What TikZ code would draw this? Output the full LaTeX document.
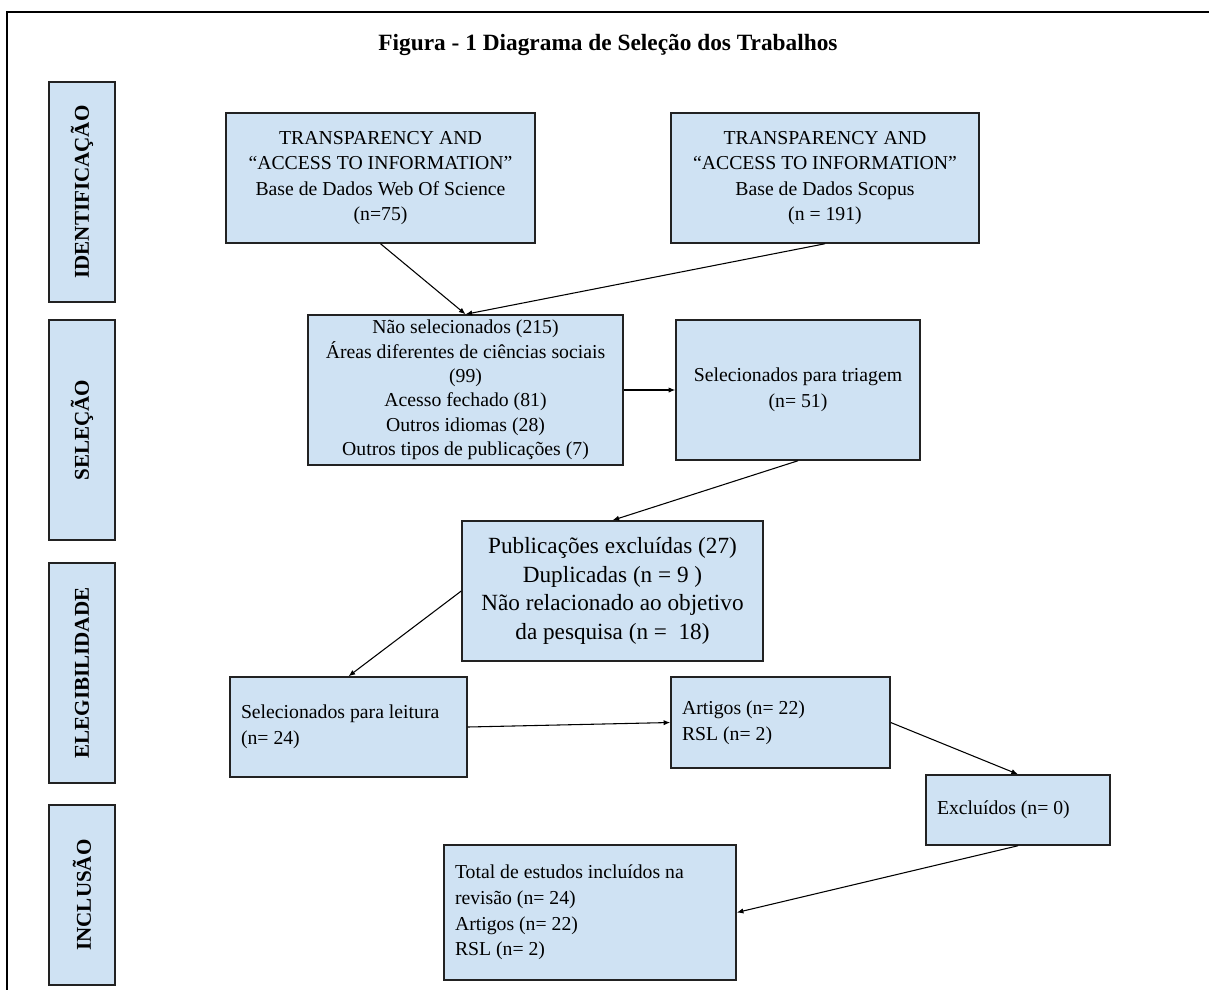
\documentclass[tikz,border=0pt]{standalone}
\usepackage{fontspec}
\setmainfont{Liberation Serif}
\usetikzlibrary{arrows.meta}

\definecolor{azulclaro}{HTML}{CFE2F3}
\definecolor{borda}{HTML}{222222}

\tikzset{
  caixa/.style={rectangle, draw=borda, fill=azulclaro, line width=1.1pt,
    inner sep=2pt, align=center, font=\fontsize{14.8}{19.2}\selectfont},
  tam/.style 2 args={minimum width=#1, minimum height=#2},
  fase/.style={caixa, rotate=90, font=\fontsize{15.8}{18}\selectfont\bfseries},
  esq/.style={align=flush left, inner xsep=8.25pt, text width=#1},
}

\begin{document}
\begin{tikzpicture}[x=0.75pt, y=-0.75pt]

        \useasboundingbox (0,0) rectangle (1209,990);
        \draw[line width=1.5pt] (1209,12) -- (7,12) -- (7,990);

        \node (titulo) at (608,45) {\fontsize{17.5}{20}\selectfont\bfseries Figura - 1 Diagrama de Seleção dos Trabalhos};

        % fases
        \node[fase, tam={165pt}{49.5pt}] (ident) at (82,192) {IDENTIFICAÇÃO};
        \node[fase, tam={165pt}{49.5pt}] (sel)   at (82,430) {SELEÇÃO};
        \node[fase, tam={165pt}{49.5pt}] (eleg)  at (82,673) {ELEGIBILIDADE};
        \node[fase, tam={135pt}{49.5pt}] (incl)  at (82,895) {INCLUSÃO};

        \begin{scope}[every node/.style={caixa}]
          \node[tam={231.75pt}{97.5pt}] (wos)    at (380.5,178) {TRANSPARENCY AND\\``ACCESS TO INFORMATION''\\Base de Dados Web Of Science\\(n=75)};
          \node[tam={231pt}{97.5pt}]    (scopus) at (825,178)   {TRANSPARENCY AND\\``ACCESS TO INFORMATION''\\Base de Dados Scopus\\(n = 191)};
          \node[tam={236.25pt}{112.5pt}, font=\fontsize{14.8}{18.3}\selectfont] (naosel) at (465.5,390) {Não selecionados (215)\\Áreas diferentes de ciências sociais\\(99)\\Acesso fechado (81)\\Outros idiomas (28)\\Outros tipos de publicações (7)};
          \node[tam={183pt}{105pt}]     (triagem) at (798,390)  {Selecionados para triagem\\(n= 51)};
          \node[tam={225.75pt}{105pt}, font=\fontsize{17.4}{21.5}\selectfont] (pubexcl) at (612.5,591) {Publicações excluídas (27)\\Duplicadas (n = 9 )\\Não relacionado ao objetivo\\da pesquisa (n = \ 18)};
          \node[tam={177.75pt}{75pt}, esq=161.25pt]   (leitura)   at (348.5,727)  {Selecionados para leitura\\(n= 24)};
          \node[tam={164.25pt}{68.25pt}, esq=147.75pt] (artigos)  at (780.5,722.5) {Artigos (n= 22)\\RSL (n= 2)};
          \node[tam={138pt}{52.5pt}, esq=121.5pt]     (excluidos) at (1018,810)   {Excluídos (n= 0)};
          \node[tam={219pt}{101.25pt}, esq=202.5pt]   (total)     at (590,912.5)  {Total de estudos incluídos na\\revisão (n= 24)\\Artigos (n= 22)\\RSL (n= 2)};
        \end{scope}

        \begin{scope}[every edge/.style={draw, line width=0.8pt, -{Latex[length=5pt,width=4pt]}}]
          \path (wos.south)       edge (naosel.north);
          \path (scopus.south)    edge (naosel.north);
          \path (naosel.east)     edge (triagem.west);
          \path (triagem.south)   edge (pubexcl.north);
          \path (pubexcl.west)    edge (leitura.north);
          \path (leitura.east)    edge (artigos.west);
          \path (artigos.east)    edge (excluidos.north);
          \path (excluidos.south) edge (total.east);
        \end{scope}

      \end{tikzpicture}
\end{document}
